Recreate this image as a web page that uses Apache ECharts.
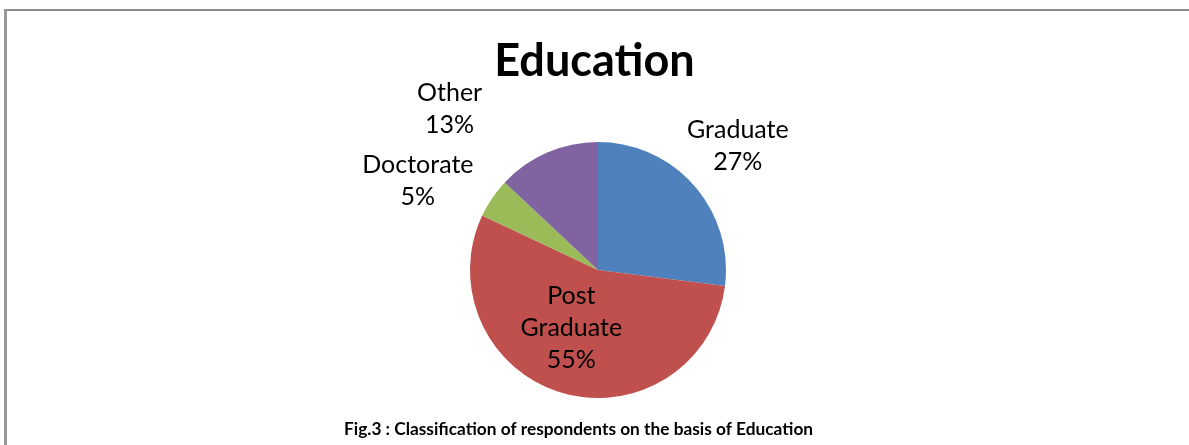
<!DOCTYPE html>
<html><head><meta charset="utf-8">
<script src="https://cdn.jsdelivr.net/npm/echarts@6/dist/echarts.min.js"></script>
<style>html,body{margin:0;padding:0;background:#fff}#c{width:1189px;height:445px}</style>
</head><body><div id="c"></div>
<script>
const categories = ['Graduate', 'Post Graduate', 'Doctorate', 'Other'];
const values = [27, 55, 5, 13];
const colors = ['#4F81BD', '#C0504D', '#9BBB59', '#8064A2'];
const titleText = 'Education';
const captionText = 'Fig.3 : Classification of respondents on the basis of Education';

const font = 'Lato, "Open Sans", sans-serif';
const labelBase = { fontFamily: font, fontSize: 25, color: '#000', lineHeight: 32 };
const labelCfg = [
  { position: 'outside', formatter: '{b}\n{d}%' },
  { position: 'inside', formatter: 'Post\nGraduate\n{d}%' },
  { position: 'outside', formatter: '{b}\n{d}%' },
  { position: 'outside', formatter: '{b}\n{d}%' }
];
const labelShiftY = [-33, -6, -28, -34];
const labelNudgeX = [-19.5, -8, 0, -56];
const chart = echarts.init(document.getElementById('c'));
chart.setOption({
  animation: false,
  title: [
    { text: titleText, left: 'center', top: 34, textStyle: { fontFamily: font, fontSize: 45, fontWeight: 'bold', color: '#000' } },
    { text: captionText, left: 339, top: 416, textStyle: { fontFamily: font, fontSize: 17.3, fontWeight: 'bold', color: '#000' } }
  ],
  graphic: [
    { type: 'line', shape: { x1: 6, y1: 10, x2: 1189, y2: 10 }, style: { stroke: '#8c8c8c', lineWidth: 2 } },
    { type: 'line', shape: { x1: 5.5, y1: 9, x2: 5.5, y2: 445 }, style: { stroke: '#999', lineWidth: 3 } }
  ],
  series: [{
    type: 'pie',
    center: [598, 270],
    radius: 128,
    startAngle: 90,
    clockwise: true,
    label: labelBase,
    labelLine: { show: false, length: 10, length2: 0 },
    labelLayout: function (p) {
      const i = p.dataIndex;
      const r = p.labelRect;
      return {
        x: r.x + r.width / 2 + labelNudgeX[i],
        y: r.y + r.height / 2 + labelShiftY[i],
        align: 'center', verticalAlign: 'middle'
      };
    },
    data: categories.map((c, i) => ({
      name: c, value: values[i],
      itemStyle: { color: colors[i] },
      label: Object.assign({}, labelBase, labelCfg[i])
    }))
  }]
});
</script></body></html>
